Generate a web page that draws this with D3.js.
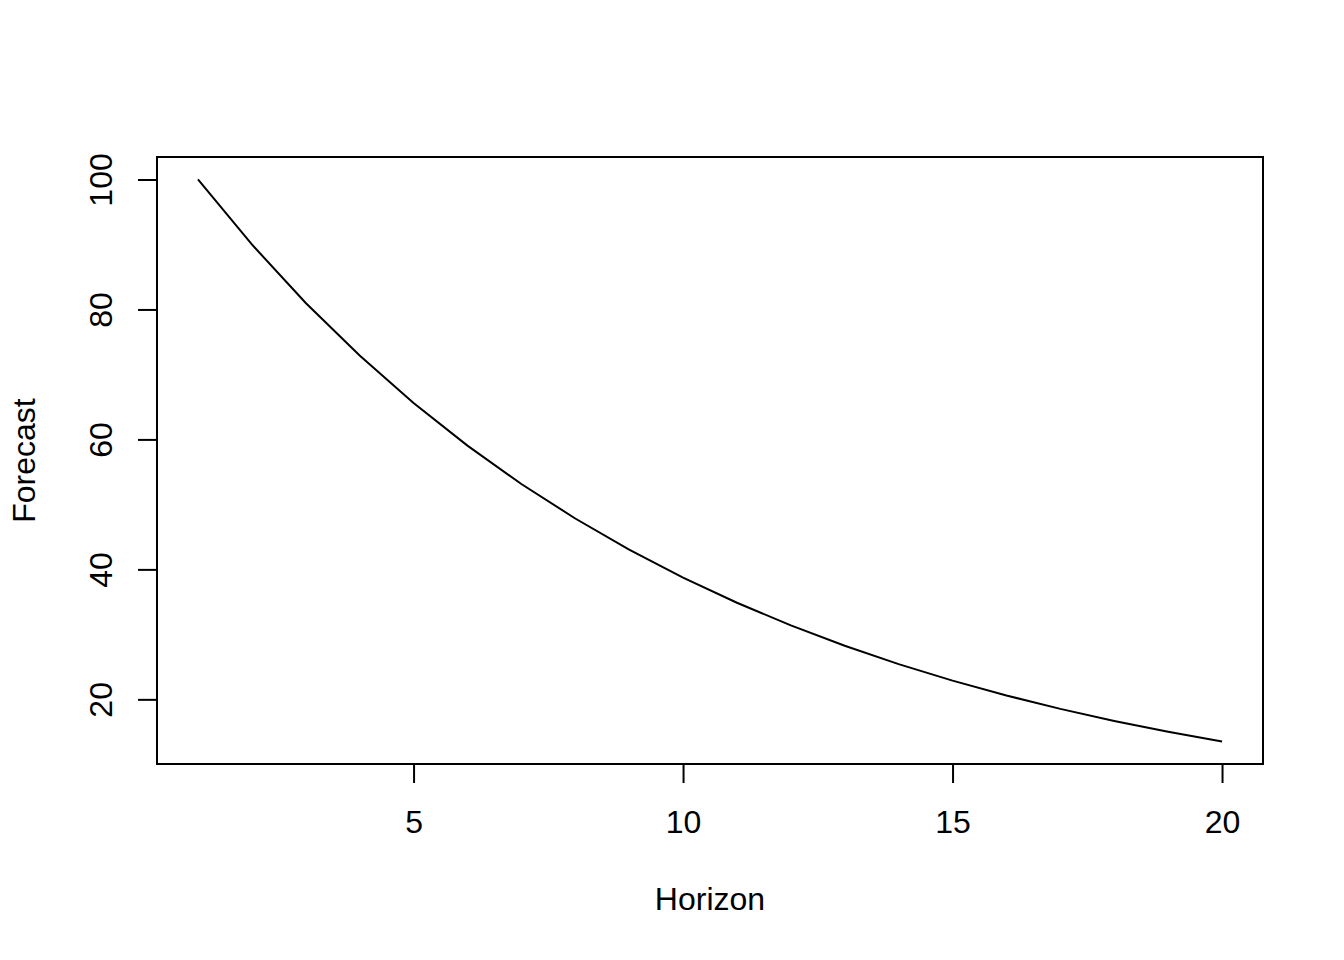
<!DOCTYPE html>
<html>
<head>
<meta charset="utf-8">
<script src="https://cdn.jsdelivr.net/npm/d3@7"></script>
<style>
  body { margin: 0; background: #fff; }
  svg { display: block; font-family: "Liberation Sans", Arial, sans-serif; }
</style>
</head>
<body>
<svg width="1344" height="960"></svg>
<script>
// forecast values by horizon
var horizon = [1, 2, 3, 4, 5, 6, 7, 8, 9, 10, 11, 12, 13, 14, 15, 16, 17, 18, 19, 20];
var forecast = [100, 90, 81, 72.9, 65.61, 59.05, 53.14, 47.83, 43.05, 38.74,
  34.87, 31.38, 28.24, 25.42, 22.88, 20.59, 18.53, 16.68, 15.01, 13.51];
var xTicks = [5, 10, 15, 20];
var yTicks = [20, 40, 60, 80, 100];

var width = 1344,
  height = 960,
  margin = { top: 157, right: 81, bottom: 196, left: 157 };

var svg = d3.select("svg");

// R style 4% axis padding
function pad(ext) {
  var d = (ext[1] - ext[0]) * 0.04;
  return [ext[0] - d, ext[1] + d];
}

var x = d3
  .scaleLinear()
  .domain(pad(d3.extent(horizon)))
  .range([margin.left, width - margin.right]);

var y = d3
  .scaleLinear()
  .domain(pad(d3.extent(forecast)))
  .range([height - margin.bottom, margin.top]);

var data = horizon.map(function(h, i) {
  return { h: h, v: forecast[i] };
});

var line = d3
  .line()
  .x(function(d) { return x(d.h); })
  .y(function(d) { return y(d.v); });

svg
  .append("path")
  .datum(data)
  .attr("d", line)
  .attr("fill", "none")
  .attr("stroke", "#000")
  .attr("stroke-width", 2);

// x axis
var xAxis = svg
  .append("g")
  .attr("transform", "translate(0," + (height - margin.bottom) + ")")
  .call(d3.axisBottom(x).tickValues(xTicks).tickSize(19).tickPadding(27));

xAxis.select(".domain").remove();
xAxis.selectAll("line").attr("stroke-width", 2);
xAxis
  .selectAll("text")
  .attr("font-size", 32)
  .attr("font-family", "Liberation Sans, Arial, sans-serif")
  .attr("fill", "#000");

// y axis, labels turned like R does
var yAxis = svg
  .append("g")
  .attr("transform", "translate(" + margin.left + ",0)")
  .call(d3.axisLeft(y).tickValues(yTicks).tickSize(19));

yAxis.select(".domain").remove();
yAxis.selectAll("line").attr("stroke-width", 2);
yAxis
  .selectAll("text")
  .attr("x", null)
  .attr("dy", null)
  .attr("transform", "translate(-45,0) rotate(-90)")
  .attr("text-anchor", "middle")
  .attr("font-size", 32)
  .attr("font-family", "Liberation Sans, Arial, sans-serif")
  .attr("fill", "#000");

// plot box
svg
  .append("rect")
  .attr("x", margin.left)
  .attr("y", margin.top)
  .attr("width", width - margin.left - margin.right)
  .attr("height", height - margin.top - margin.bottom)
  .attr("fill", "none")
  .attr("stroke", "#000")
  .attr("stroke-width", 2);

// axis titles
svg
  .append("text")
  .attr("x", (margin.left + width - margin.right) / 2)
  .attr("y", 910)
  .attr("text-anchor", "middle")
  .attr("font-size", 32)
  .text("Horizon");

svg
  .append("text")
  .attr("transform", "translate(35," + (margin.top + height - margin.bottom) / 2 + ") rotate(-90)")
  .attr("text-anchor", "middle")
  .attr("font-size", 32)
  .text("Forecast");
</script>
</body>
</html>
